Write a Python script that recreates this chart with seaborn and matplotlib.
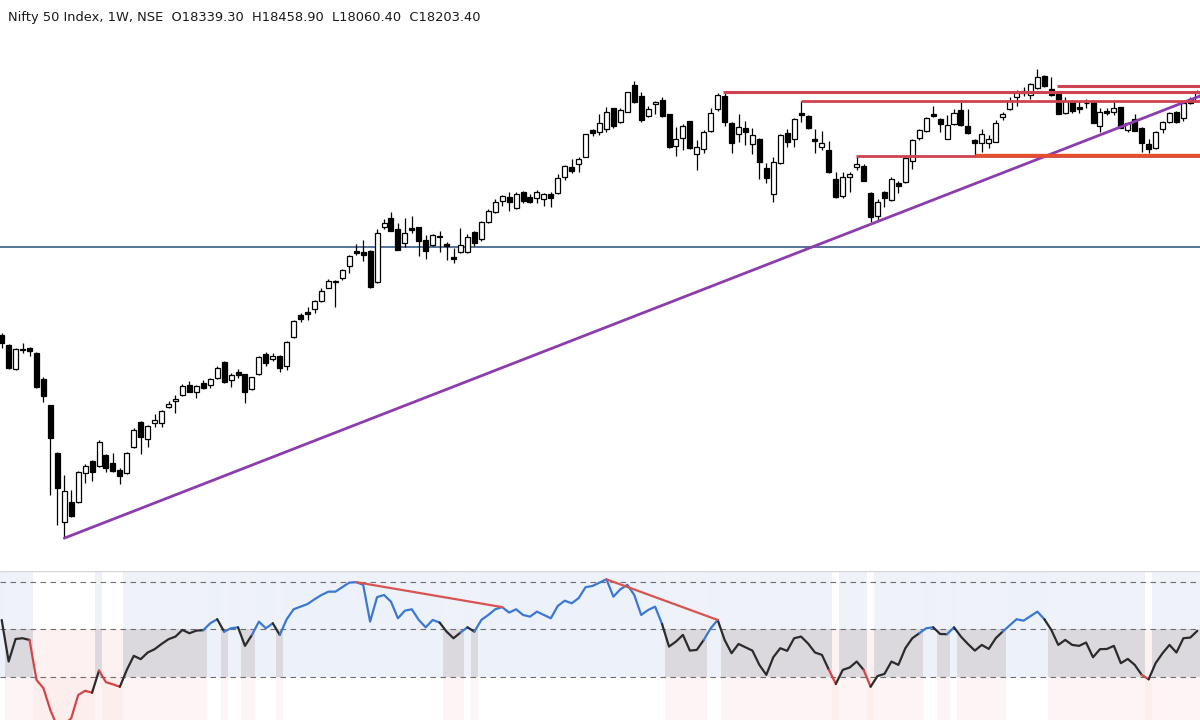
import numpy as np
import pandas as pd
import matplotlib
matplotlib.use("Agg")
import matplotlib.pyplot as plt
import seaborn as sns

# ---------------- data ----------------
title_text = "Nifty 50 Index, 1W, NSE  O18339.30  H18458.90  L18060.40  C18203.40"

opens = [12448, 12203, 11615, 12105, 12129, 12007, 11370, 10733, 9557, 7866,
         8356, 8356, 9067, 9361, 9238, 9508, 9312, 9140, 9067, 9704,
         10316, 9900, 10292, 10292, 10684, 10831, 10978, 11223, 11051, 11272,
         11223, 11394, 11786, 11345, 11541, 11492, 11125, 11492, 11982, 11860,
         11933, 11688, 12399, 12938, 13011, 13085, 13281, 13599, 13746, 13844,
         14138, 14506, 14481, 14506, 13746, 15094, 15314, 15045, 14702, 15069,
         15094, 14775, 14653, 14860, 14677, 14359, 14481, 14481, 14971, 14800,
         15216, 15461, 15731, 15829, 15559, 15951, 15829, 15804, 15780, 15902,
         15927, 16319, 16564, 16637, 16809, 17470, 17421, 17495, 18009, 17666,
         17911, 18573, 18303, 17813, 18107, 18205, 17862, 17078, 17274, 17691,
         16882, 17005, 17446, 17985, 18303, 17642, 17372, 17519, 17127, 17250,
         16539, 15902, 16662, 17397, 17250, 17887, 17813, 17250, 17054, 16980,
         16270, 15853, 16319, 16564, 16588, 15927, 15363, 15951, 15755, 16172,
         16196, 16711, 17274, 17446, 17862, 17740, 17250, 17617, 17960, 17568,
         17225, 17152, 17152, 17176, 17789, 17985, 18279, 18426, 18328, 18499,
         18793, 18475, 18352, 17887, 18181, 18034, 18132, 18156, 17568, 17936,
         17911, 18034, 17470, 17740, 17519, 17127, 17029, 17495, 17666, 17911,
         17764, 18230, 18181]
highs = [12497, 12227, 12129, 12252, 12154, 12031, 11419, 10740, 9581, 9018,
         8650, 9116, 9287, 9385, 9875, 9532, 9557, 9189, 9581, 10169,
         10341, 10243, 10512, 10610, 10831, 10978, 11247, 11321, 11223, 11345,
         11394, 11688, 11810, 11517, 11615, 11500, 11430, 11933, 12031, 12007,
         11958, 12301, 12815, 12987, 13134, 13305, 13599, 13820, 13795, 14065,
         14408, 14677, 14775, 14530, 15045, 15290, 15461, 15192, 15314, 15363,
         15100, 14898, 14922, 14996, 14726, 14579, 15069, 14922, 14996, 15230,
         15535, 15780, 15878, 15951, 15951, 15976, 15902, 16000, 15927, 15951,
         16392, 16613, 16760, 16809, 17380, 17495, 17862, 18034, 18020, 18009,
         18410, 18671, 18401, 18058, 18181, 18279, 17870, 17544, 17617, 17700,
         17225, 17470, 18009, 18377, 18426, 17666, 17862, 17691, 17519, 17274,
         16662, 16809, 17372, 17495, 17764, 18181, 17838, 17495, 17446, 17201,
         16441, 16441, 16441, 16833, 16637, 15940, 15780, 15976, 16319, 16221,
         16833, 17250, 17495, 17789, 18058, 17764, 17838, 17985, 18156, 17985,
         17250, 17495, 17348, 17715, 17911, 18279, 18450, 18524, 18622, 18965,
         18810, 18769, 18360, 18279, 18205, 18181, 18230, 18205, 18009, 18009,
         18181, 18045, 17666, 17862, 17544, 17250, 17446, 17691, 17911, 17936,
         18181, 18279, 18450]
lows = [12129, 11620, 11590, 12006, 11933, 11150, 10806, 8528, 7793, 7474,
        8000, 8332, 8822, 8871, 9214, 9091, 9091, 8797, 9042, 9679,
        9532, 9704, 10194, 10194, 10659, 10537, 10960, 11040, 10904, 11125,
        11149, 11380, 11280, 11174, 11394, 10782, 11110, 11468, 11688, 11811,
        11541, 11590, 12385, 12766, 12815, 12987, 13256, 13590, 13134, 13795,
        13967, 14408, 14261, 13610, 13722, 15045, 14990, 14520, 14604, 14947,
        14383, 14310, 14628, 14481, 14285, 14212, 14457, 14457, 14628, 14751,
        15192, 15437, 15608, 15486, 15545, 15682, 15682, 15682, 15608, 15584,
        15902, 16245, 16417, 16441, 16800, 17323, 17348, 17421, 17519, 17650,
        17900, 18140, 17666, 17789, 17862, 17789, 17040, 16833, 16980, 17015,
        16490, 16907, 17430, 17936, 17568, 16907, 17176, 17103, 16882, 16270,
        16172, 15706, 16637, 17054, 17054, 17666, 17495, 16907, 16980, 16417,
        15804, 15804, 15951, 16490, 16210, 15216, 15265, 15584, 15731, 15927,
        16180, 16515, 17225, 17421, 17789, 17421, 17240, 17593, 17568, 17372,
        16833, 16931, 17029, 17165, 17715, 17960, 18058, 18303, 18230, 18480,
        18530, 18310, 17850, 17862, 17887, 17887, 18009, 17630, 17421, 17838,
        17838, 17510, 17421, 17440, 16931, 16907, 17005, 17397, 17650, 17642,
        17691, 18107, 18156]
closes = [12252, 11639, 12105, 12090, 12056, 11174, 10953, 9924, 8699, 8626,
          8013, 9091, 9238, 9091, 9826, 9189, 9116, 8993, 9557, 10120,
          9949, 10218, 10365, 10586, 10757, 10880, 11198, 11051, 11198, 11149,
          11370, 11639, 11296, 11468, 11468, 11051, 11419, 11909, 11762, 11933,
          11639, 12276, 12791, 12840, 12962, 13281, 13526, 13771, 13771, 14040,
          14383, 14457, 14408, 13624, 14947, 15192, 14996, 14530, 14947, 15020,
          14751, 14506, 14898, 14873, 14628, 14310, 14653, 14849, 14702, 15216,
          15486, 15706, 15853, 15706, 15902, 15731, 15706, 15951, 15902, 15804,
          16294, 16588, 16466, 16760, 17372, 17397, 17642, 17911, 17568, 17960,
          18401, 18156, 17715, 17985, 18156, 17813, 17054, 17250, 17568, 17029,
          17054, 17421, 17887, 18328, 17666, 17152, 17544, 17421, 17348, 16686,
          16294, 16686, 17348, 17176, 17740, 17838, 17519, 17201, 17152, 16441,
          15829, 16319, 16392, 16637, 16221, 15339, 15706, 15804, 16270, 16098,
          16784, 17225, 17470, 17764, 17813, 17617, 17593, 17887, 17593, 17397,
          17152, 17372, 17250, 17642, 17862, 18181, 18401, 18377, 18597, 18769,
          18548, 18328, 17862, 18181, 17936, 17985, 18120, 17642, 17911, 17887,
          18009, 17519, 17642, 17446, 17152, 17005, 17421, 17666, 17887, 17666,
          18132, 18132, 18377]
rsi = [53.9, 36.4, 45.9, 46.2, 45.5, 28.7, 25.2, 16.0, 9.0, 10.0,
       12.5, 22.3, 24.1, 23.3, 32.6, 27.7, 26.8, 25.8, 32.9, 38.8,
       37.4, 40.2, 41.6, 43.8, 45.8, 46.9, 49.7, 48.3, 49.4, 49.6,
       52.5, 54.2, 49.0, 50.4, 50.8, 43.0, 47.6, 53.2, 50.4, 52.5,
       47.6, 54.2, 58.4, 59.5, 60.6, 62.6, 64.4, 65.8, 65.8, 67.7,
       69.6, 69.8, 68.7, 53.2, 63.5, 64.4, 61.6, 54.6, 57.8, 58.4,
       53.9, 50.8, 53.9, 52.8, 49.0, 46.2, 48.6, 50.8, 49.0, 53.9,
       56.0, 58.4, 59.3, 57.0, 58.4, 56.0, 55.3, 57.4, 56.0, 54.6,
       59.8, 62.0, 60.9, 63.1, 67.7, 68.2, 69.6, 71.0, 63.7, 66.8,
       68.7, 64.4, 56.0, 58.1, 59.5, 52.2, 42.7, 44.8, 47.6, 41.0,
       41.3, 45.5, 50.4, 53.9, 45.5, 39.9, 43.8, 42.4, 41.0, 35.0,
       30.8, 38.2, 42.0, 40.9, 46.2, 46.9, 44.0, 40.2, 39.2, 32.9,
       27.0, 32.9, 33.9, 36.4, 32.9, 25.8, 30.3, 31.2, 36.4, 35.0,
       42.0, 46.2, 48.3, 50.4, 50.8, 48.0, 47.9, 50.8, 46.9, 43.8,
       41.0, 43.4, 41.7, 46.2, 49.0, 51.6, 54.2, 53.6, 55.5, 57.4,
       54.2, 49.7, 43.4, 45.5, 43.4, 43.0, 44.4, 38.2, 41.6, 41.7,
       43.0, 35.7, 37.5, 35.0, 30.8, 28.9, 35.7, 39.9, 43.4, 40.2,
       46.2, 46.5, 49.3]

support_level = 14604
trend_bars = [9, 172.4]
trend_prices = [7470, 18303]
resistance_start_bars = [103.8, 115.0, 151.8, 122.9]
resistance_levels = [18413, 18188, 18548, 16840]
floor_start_bar = [140.0]
floor_level = [16857]
rsi_levels = [70, 50, 30]
div1_bars = [51, 72]
div1_vals = [69.8, 59.3]
div2_bars = [87, 103]
div2_vals = [71.0, 53.9]

# ---------------- style ----------------
sns.set_theme(style="white")
plt.rcParams['font.family'] = ['DejaVu Sans']

n = len(closes)
df = pd.DataFrame({"bar": np.arange(n), "open": opens, "high": highs,
                   "low": lows, "close": closes, "rsi": rsi})

fig = plt.figure(figsize=(12, 7.2), dpi=100)
fig.patch.set_facecolor("white")
ax = fig.add_axes([0, 150 / 720, 1, 570 / 720])
axr = fig.add_axes([0, 0, 1, 149 / 720])

XMIN, XMAX = -0.245, 172.39
for a in (ax, axr):
    a.set_xlim(XMIN, XMAX)
    a.set_xticks([])
    a.set_yticks([])
    for s in a.spines.values():
        s.set_visible(False)
    a.set_facecolor("white")

ax.set_ylim(6690, 20655)
axr.set_ylim(11.8, 74.5)

# ---------------- candles ----------------
up = df["close"] >= df["open"]
body_bot = np.minimum(df["open"], df["close"])
body_h = np.maximum(np.abs(df["close"] - df["open"]), 18)
ax.vlines(df["bar"], df["low"], df["high"], color="black", lw=0.9, zorder=3)
ax.bar(df["bar"][up], body_h[up], bottom=body_bot[up], width=0.72,
       color="white", edgecolor="black", linewidth=0.9, zorder=4)
ax.bar(df["bar"][~up], body_h[~up], bottom=body_bot[~up], width=0.72,
       color="black", edgecolor="black", linewidth=0.9, zorder=4)

# ---------------- drawings ----------------
ax.axhline(support_level, color="#49688f", lw=1.3, zorder=2)
sns.lineplot(x=trend_bars, y=trend_prices, ax=ax, color="#8c3cad", lw=2.0,
             estimator=None, sort=False, legend=False, zorder=5)
res_lw = [2.2, 2.0, 2.2, 2.0]
for b, lv, lw in zip(resistance_start_bars, resistance_levels, res_lw):
    ax.hlines(lv, b, XMAX + 1, color="#cf4250", lw=lw, zorder=6)
for b, lv in zip(floor_start_bar, floor_level):
    ax.hlines(lv, b, XMAX + 1, color="#e4502e", lw=2.4, zorder=6)

# ---------------- RSI panel ----------------
r = np.array(rsi)
state = np.where(r >= 50, "up", np.where(r < 30, "low", "mid"))
top_c = {"up": "#edf1fa", "mid": "#eff2f9", "low": "#ffffff"}
mid_c = {"up": "#edf1fa", "mid": "#dcd9de", "low": "#fdf1f1"}
bot_c = {"up": "#ffffff", "mid": "#fdf5f5", "low": "#fdeeee"}
bars = df["bar"].values
axr.bar(bars, 74.5 - 50, bottom=50, width=1.02, color=[top_c[s] for s in state], linewidth=0, zorder=0)
axr.bar(bars, 20, bottom=30, width=1.02, color=[mid_c[s] for s in state], linewidth=0, zorder=0)
axr.bar(bars, 30 - 11.8, bottom=11.8, width=1.02, color=[bot_c[s] for s in state], linewidth=0, zorder=0)

for lv in rsi_levels:
    axr.axhline(lv, color="#6e6e6e", lw=0.8, ls=(0, (5, 4)), zorder=1)

col = {"up": "#3b78d4", "mid": "#2b2b2b", "low": "#d64545"}
seg = [col[state[i + 1]] for i in range(n - 1)]
start = 0
for i in range(1, n):
    if i == n - 1 or seg[i] != seg[start]:
        sl = slice(start, i + 1)
        sns.lineplot(x=bars[sl], y=r[sl], ax=axr, color=seg[start], lw=1.6,
                     estimator=None, sort=False, legend=False, zorder=3)
        start = i

for bb, vv in ((div1_bars, div1_vals), (div2_bars, div2_vals)):
    sns.lineplot(x=bb, y=vv, ax=axr, color="#d9534f", lw=1.6,
                 estimator=None, sort=False, legend=False, zorder=4)

axr.axhline(74.3, color="#d6d6d6", lw=1.0, zorder=5)
axr.set_xlabel("")
axr.set_ylabel("")
ax.set_xlabel("")
ax.set_ylabel("")

fig.text(8 / 1200, 1 - 18 / 720, title_text, fontsize=9.4, color="#1a1a1a",
         ha="left", va="center")

fig.savefig("out.png", dpi=100, facecolor="white")
